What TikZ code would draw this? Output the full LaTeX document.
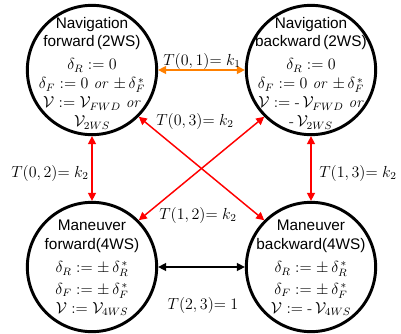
\documentclass[tikz,border=0pt]{standalone}
\usepackage{amsmath,amssymb}
\usepackage{fontspec}
\setsansfont{Liberation Sans}
\usetikzlibrary{arrows.meta}

\begin{document}
\begin{tikzpicture}[x=0.75pt,y=-0.75pt,every node/.style={font=\fontsize{11.5}{14.2}\selectfont},
  state/.style={draw,circle,line width=2.2pt,minimum size=97pt,inner sep=0pt},
  link/.style={{Triangle[length=6pt,width=6pt]}-{Triangle[length=6pt,width=6pt]},line width=1.1pt}]
\useasboundingbox (0,0) rectangle (401,333);
\node[state] (nf) at (92,70) {};
\node[state] (nb) at (311,70) {};
\node[state] (mf) at (92,267) {};
\node[state] (mb) at (311,267) {};
\node[align=center] (nftext) at (92,73) {\textsf{Navigation}\\\textsf{forward\,(2WS)}\\[3pt]
  $\delta_{R} := 0$\\ $\delta_{F} := 0$ \textit{or} $\pm\,\delta_{F}^{\,*}$\\
  $\mathcal{V} := \mathcal{V}_{FWD}$ \textit{or}\\ $\mathcal{V}_{2WS}$};
\node[align=center] (nbtext) at (311,73) {\textsf{Navigation}\\\textsf{backward\,(2WS)}\\[3pt]
  $\delta_{R} := 0$\\ $\delta_{F} := 0$ \textit{or} $\pm\,\delta_{F}^{\,*}$\\
  $\mathcal{V} := \text{-}\,\mathcal{V}_{FWD}$ \textit{or}\\ $\text{-}\,\mathcal{V}_{2WS}$};
\node[align=center] (mftext) at (92,268) {\textsf{Maneuver}\\\textsf{forward(4WS)}\\[3pt]
  $\delta_{R} := \pm\,\delta_{R}^{\,*}$\\[2pt] $\delta_{F} := \pm\,\delta_{F}^{\,*}$\\
  $\mathcal{V} := \mathcal{V}_{4WS}$};
\node[align=center] (mbtext) at (311,268) {\textsf{Maneuver}\\\textsf{backward(4WS)}\\[3pt]
  $\delta_{R} := \pm\,\delta_{R}^{\,*}$\\[2pt] $\delta_{F} := \pm\,\delta_{F}^{\,*}$\\
  $\mathcal{V} := \text{-}\,\mathcal{V}_{4WS}$};
\draw[link,orange] (nf.east)--(nb.west);
\draw[link,red] (nf.south)--(mf.north);
\draw[link,red] (nb.south)--(mb.north);
\draw[link,red] (nf.-45)--(mb.135);
\draw[link,red] (nb.225)--(mf.45);
\draw[link] (mf.east)--(mb.west);
\node (t01) at (202,61) {$T(0,1){=}\;k_1$};
\node (t03) at (195,121) {$T(0,3){=}\;k_2$};
\node (t02) at (50,173) {$T(0,2){=}\;k_2$};
\node (t13) at (358,173) {$T(1,3){=}\;k_2$};
\node (t12) at (198,215) {$T(1,2){=}\;k_2$};
\node (t23) at (203,305) {$T(2,3){=}\;1$};
\end{tikzpicture}
\end{document}
